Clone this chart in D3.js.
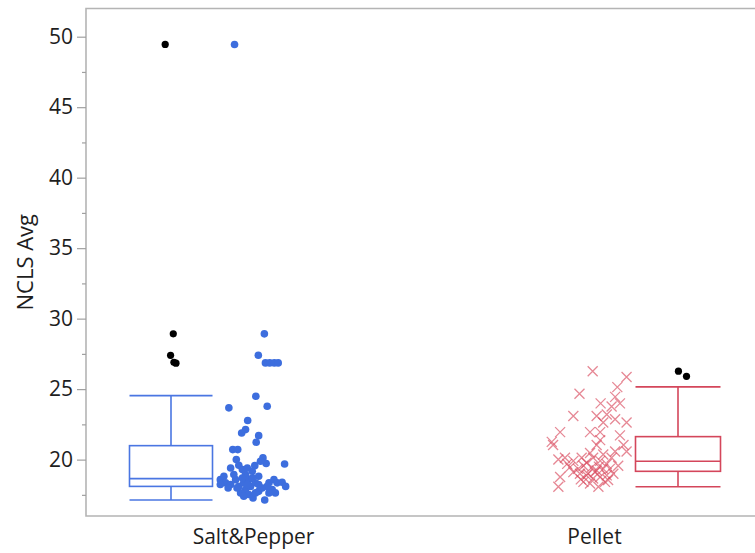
<!DOCTYPE html>
<html><head><meta charset="utf-8">
<script src="https://cdn.jsdelivr.net/npm/d3@7"></script>
<style>body{margin:0;background:#fff;} svg{display:block;} text{font-family:"Open Sans",sans-serif;fill:#1e1e1e;}</style>
</head><body><svg id="c" width="755" height="553"></svg>
<script>
// ---------- data ----------
const categories = ["Salt&Pepper", "Pellet"];
const yTicks = [20, 25, 30, 35, 40, 45, 50];
const yMinorTicks = [17.5, 22.5, 27.5, 32.5, 37.5, 42.5, 47.5];
const yTitle = "NCLS Avg";

const spValues = [49.45,28.92,27.40,26.86,26.86,26.86,26.86,24.49,23.67,23.78,22.77,22.13,21.89,21.70,21.23,20.71,20.71,20.12,19.72,19.69,
  20.0,19.6,19.41,19.29,19.57,19.17,18.94,18.82,18.58,18.35,18.23,18.58,18.1,18.35,18.58,18.1,18.35,17.87,17.64,17.52,17.28,17.75,17.14,
  18.35,18.58,18.35,18.39,18.1,17.87,17.64,18.1,17.99,18.82,18.94,18.7,18.7,19.41,19.88,18.23,17.64,17.4,17.64,17.99,17.99,18.23,18.23];
const spJitter = [-0.52,0.32,0.15,0.35,0.47,0.60,0.71,0.08,-0.68,0.40,-0.15,-0.21,-0.32,0.16,0.09,-0.57,-0.43,0.28,0.37,0.89,
  -0.47,-0.40,-0.63,-0.30,0.05,-0.02,-0.21,0.16,-0.92,-0.77,-0.63,-0.49,-0.40,-0.26,-0.12,-0.07,0.07,-0.21,-0.35,-0.12,0.0,0.16,0.33,
  0.45,0.59,0.68,0.82,0.92,0.54,0.63,0.40,0.26,-0.82,-0.54,-0.30,-0.02,-0.16,0.21,-0.92,0.07,-0.26,0.45,-0.45,-0.70,0.16,-0.16];

const peValues = [26.27,25.86,24.67,25.14,24.45,23.99,23.77,23.99,23.09,23.09,23.20,22.86,22.63,22.63,21.95,21.95,21.95,21.72,21.26,21.04,
  21.38,21.04,21.04,20.58,20.58,20.01,20.13,19.91,20.13,19.78,20.13,19.91,19.68,20.13,20.36,20.47,19.45,19.34,19.56,19.45,19.23,19.34,
  19.34,19.56,18.77,18.88,18.66,18.77,18.88,19.00,19.11,19.00,18.08,18.31,18.08,18.42,18.42,19.11,19.0,18.6,19.7,19.5,18.55];
const peJitter = [-0.03,0.74,-0.33,0.53,0.48,0.15,0.40,0.59,-0.47,0.06,0.29,0.48,0.74,0.21,-0.77,-0.09,0.14,0.59,-0.96,-0.93,
  0.14,0.06,0.67,0.74,0.48,-0.81,-0.66,-0.47,-0.28,-0.17,-0.02,0.14,0.29,0.40,0.21,-0.09,-0.55,-0.36,-0.24,-0.05,0.06,0.21,
  0.36,0.55,-0.77,-0.17,-0.02,0.14,0.29,-0.32,-0.47,0.44,-0.81,-0.09,0.10,-0.24,0.25,0.02,-0.14,-0.30,-0.61,0.11,0.32];

// box plot statistics per category (as displayed)
const boxLow  = [17.14, 18.08];
const boxQ1   = [18.10, 19.17];
const boxMed  = [18.65, 19.88];
const boxQ3   = [20.99, 21.63];
const boxHigh = [24.54, 25.16];
const spOutliers = [49.45, 28.92, 27.40, 26.90, 26.84];
const spOutlierJitter = [-0.14, 0.055, -0.01, 0.07, 0.12];
const peOutliers = [26.27, 25.91];
const peOutlierJitter = [0.01, 0.2];

// ---------- layout ----------
const plot = {left: 86, top: 8.5, bottom: 516, right: 755};
const style = {
  blue: "#3d6ede", blueBox: "#4a76e2", red: "#d9485c", redBox: "#d4465b",
  frame: "#b4b4b4", tick: "#a0a0a0", font: 21
};
const layout = [
  {boxOffset: -82, boxHalf: 41.5, pointHalf: 35.5, color: style.blueBox},
  {boxOffset: 84,  boxHalf: 42.5, pointHalf: 44,   color: style.redBox}
];

const svg = d3.select("#c");
const y = d3.scaleLinear().domain([16, 52]).range([plot.bottom, plot.top]);
const x = d3.scalePoint().domain(categories).range([253, 594]);

// frame
svg.append("path")
  .attr("d", `M${plot.right},${plot.top}H${plot.left}V${plot.bottom}H${plot.right}`)
  .attr("fill", "none").attr("stroke", style.frame).attr("stroke-width", 1.6);

// y axis
const yAxis = d3.axisLeft(y).tickValues(yTicks).tickSize(9).tickPadding(4).tickFormat(d3.format("d"));
const gy = svg.append("g").attr("transform", `translate(${plot.left},0)`).call(yAxis);
gy.select(".domain").remove();
gy.selectAll(".tick line").attr("stroke", style.tick).attr("stroke-width", 1.2);
gy.selectAll(".tick text").attr("font-size", style.font).attr("fill", "#1e1e1e");
const gyMinor = svg.append("g").attr("transform", `translate(${plot.left},0)`)
  .call(d3.axisLeft(y).tickValues(yMinorTicks).tickSize(4).tickFormat(""));
gyMinor.select(".domain").remove();
gyMinor.selectAll(".tick line").attr("stroke", style.tick).attr("stroke-width", 1.2);

svg.append("text").attr("transform", `translate(33,${(plot.top + plot.bottom) / 2}) rotate(-90)`)
  .attr("text-anchor", "middle").attr("font-size", 22).text(yTitle);

// x axis labels
const xAxis = d3.axisBottom(x).tickSize(0).tickPadding(13);
const gx = svg.append("g").attr("transform", `translate(0,${plot.bottom})`).call(xAxis);
gx.select(".domain").remove();
gx.selectAll(".tick text").attr("font-size", style.font).attr("fill", "#1e1e1e");

// box plots
const boxes = categories.map((c, i) => ({c, i, lo: boxLow[i], q1: boxQ1[i], med: boxMed[i], q3: boxQ3[i], hi: boxHigh[i]}));
const gb = svg.append("g").selectAll("g").data(boxes).join("g")
  .attr("fill", "none").attr("stroke", d => layout[d.i].color).attr("stroke-width", 1.6);
gb.append("rect")
  .attr("x", d => x(d.c) + layout[d.i].boxOffset - layout[d.i].boxHalf)
  .attr("width", d => 2 * layout[d.i].boxHalf)
  .attr("y", d => y(d.q3)).attr("height", d => y(d.q1) - y(d.q3));
gb.append("line")
  .attr("x1", d => x(d.c) + layout[d.i].boxOffset - layout[d.i].boxHalf)
  .attr("x2", d => x(d.c) + layout[d.i].boxOffset + layout[d.i].boxHalf)
  .attr("y1", d => y(d.med)).attr("y2", d => y(d.med));
[["hi", "q3"], ["lo", "q1"]].forEach(([a, b]) => {
  gb.append("line")
    .attr("x1", d => x(d.c) + layout[d.i].boxOffset).attr("x2", d => x(d.c) + layout[d.i].boxOffset)
    .attr("y1", d => y(d[a])).attr("y2", d => y(d[b]));
  gb.append("line")
    .attr("x1", d => x(d.c) + layout[d.i].boxOffset - layout[d.i].boxHalf)
    .attr("x2", d => x(d.c) + layout[d.i].boxOffset + layout[d.i].boxHalf)
    .attr("y1", d => y(d[a])).attr("y2", d => y(d[a]));
});

// outliers (black)
const outliers = spOutliers.map((v, k) => ({i: 0, v, j: spOutlierJitter[k]}))
  .concat(peOutliers.map((v, k) => ({i: 1, v, j: peOutlierJitter[k]})));
svg.append("g").selectAll("circle").data(outliers).join("circle")
  .attr("cx", d => x(categories[d.i]) + layout[d.i].boxOffset + d.j * layout[d.i].boxHalf)
  .attr("cy", d => y(d.v)).attr("r", 3.6).attr("fill", "#000");

// Salt&Pepper points
svg.append("g").selectAll("circle").data(spValues.map((v, k) => ({v, j: spJitter[k]}))).join("circle")
  .attr("cx", d => x(categories[0]) + d.j * layout[0].pointHalf)
  .attr("cy", d => y(d.v)).attr("r", 3.8).attr("fill", style.blue);

// Pellet points (x markers)
const s = 5;
svg.append("g").selectAll("path").data(peValues.map((v, k) => ({v, j: peJitter[k]}))).join("path")
  .attr("transform", d => `translate(${x(categories[1]) + d.j * layout[1].pointHalf},${y(d.v)})`)
  .attr("d", `M${-s},${-s}L${s},${s}M${-s},${s}L${s},${-s}`)
  .attr("stroke", style.red).attr("stroke-width", 1.3).attr("stroke-opacity", 0.65).attr("fill", "none");
</script></body></html>
